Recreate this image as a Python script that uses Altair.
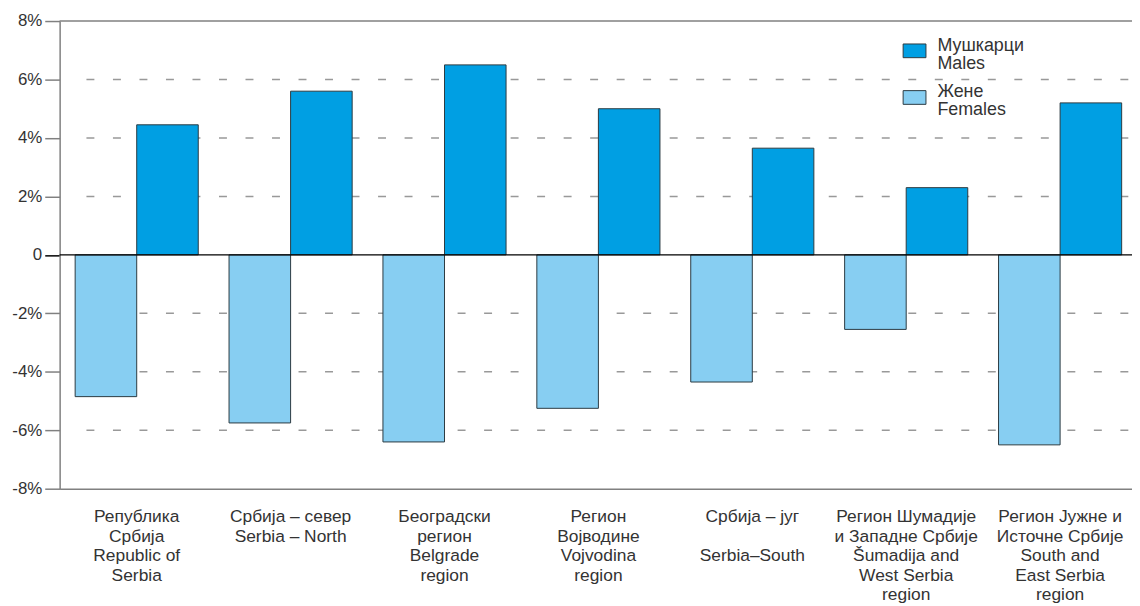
import altair as alt
import pandas as pd

categories = [
    "Република|Србија|Republic of|Serbia",
    "Србија – север|Serbia – North",
    "Београдски|регион|Belgrade|region",
    "Регион|Војводине|Vojvodina|region",
    "Србија – југ|\u200b|Serbia–South",
    "Регион Шумадије|и Западне Србије|Šumadija and|West Serbia|region",
    "Регион Јужне и|Источне Србије|South and|East Serbia|region",
]
males = [4.45, 5.6, 6.5, 5.0, 3.65, 2.3, 5.2]
females = [-4.85, -5.75, -6.4, -5.25, -4.35, -2.55, -6.5]
series_names = ["Мушкарци|Males", "Жене|Females"]
y_ticks = [-8, -6, -4, -2, 0, 2, 4, 6, 8]
grid_vals = [-6, -4, -2, 2, 4, 6]

rows = []
for c, m, f in zip(categories, males, females):
    rows.append({"cat": c, "series": series_names[0], "value": m})
    rows.append({"cat": c, "series": series_names[1], "value": f})
df = pd.DataFrame(rows)

W, H = 1080, 471
FONT = "Liberation Sans"

yscale = alt.Scale(domain=[-8, 8], nice=False, zero=False)

bars = alt.Chart(df).mark_bar(stroke="#2b3a42", strokeWidth=1).encode(
    x=alt.X("cat:N", sort=categories,
            scale=alt.Scale(paddingInner=0.2, paddingOuter=0.084, align=0.6),
            axis=alt.Axis(title=None, labelAngle=0, ticks=False,
                          labelExpr="split(datum.label, '|')",
                          labelFontSize=17.5, labelLineHeight=19.7,
                          labelPadding=19, labelColor="#333333",
                          labelFont=FONT, labelLimit=220,
                          domainColor="#808080", domainWidth=1.5)),
    xOffset=alt.XOffset("series:N", sort=[series_names[1], series_names[0]],
                        scale=alt.Scale(paddingInner=0, paddingOuter=0)),
    y=alt.Y("value:Q", scale=yscale,
            axis=alt.Axis(title=None, values=y_ticks, grid=False,
                          labelExpr="datum.value == 0 ? '0' : (datum.value < 0 ? '-' : '') + abs(datum.value) + '%'",
                          labelFontSize=17, labelColor="#333333", labelFont=FONT,
                          labelPadding=3, tickSize=15,
                          tickColor={"condition": {"test": "datum.value === 0", "value": "#000000"}, "value": "#808080"},
                          tickWidth=1.5,
                          domainColor="#808080", domainWidth=1.5)),
    color=alt.Color("series:N",
                    scale=alt.Scale(domain=series_names, range=["#009FE3", "#87CEF2"]),
                    legend=alt.Legend(title=None, orient="none", legendX=849, legendY=18,
                                      labelExpr="split(datum.label, '|')",
                                      labelFontSize=18, labelBaseline="alphabetic",
                                      labelColor="#333333", labelFont=FONT,
                                      labelOffset=11, rowPadding=11, padding=0,
                                      symbolType="M-1,-0.6H1V0.6H-1Z", symbolSize=529,
                                      symbolStrokeColor="#2b3a42", symbolStrokeWidth=1,
                                      symbolOpacity=1)),
)

grid = alt.Chart(pd.DataFrame({"v": grid_vals})).mark_rule(
    color="#999999", strokeWidth=1.5, strokeDash=[8, 18.7]
).encode(y=alt.Y("v:Q", scale=yscale), x=alt.value(27), x2=alt.value(W))

top = alt.Chart(pd.DataFrame({"v": [8]})).mark_rule(color="#808080", strokeWidth=1.5).encode(
    y=alt.Y("v:Q", scale=yscale), x=alt.value(0), x2=alt.value(W))

zero = alt.Chart(pd.DataFrame({"v": [0]})).mark_rule(color="#000000", strokeWidth=1.5).encode(
    y=alt.Y("v:Q", scale=yscale), x=alt.value(0), x2=alt.value(W))

chart = alt.layer(grid, top, bars, zero).properties(
    width=W, height=H,
    autosize=alt.AutoSizeParams(type="none"),
    padding={"left": 52, "top": 11, "right": 0, "bottom": 116},
).configure(
    font=FONT, background="white",
    style={"guide-label": {"lineHeight": 18}},
).configure_view(strokeWidth=0)

chart.save("out.html", embed_options={"renderer": "svg", "actions": False})
